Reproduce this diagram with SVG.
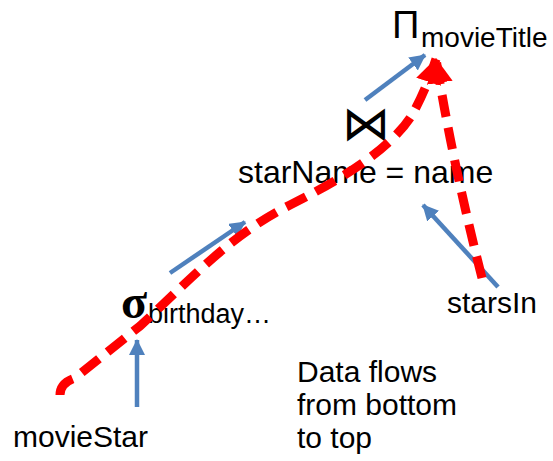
<svg xmlns="http://www.w3.org/2000/svg" width="553" height="461" viewBox="0 0 553 461">
  <style>
    .t { font-family: "Liberation Sans", Arial, sans-serif; fill: #000; }
    .flow { fill: none; stroke: #4F81BD; stroke-width: 4.5; }
    .path { fill: none; stroke: #FF0000; stroke-width: 9; stroke-dasharray: 22 11; }
  </style>
  <defs>
    <marker id="blueHead" markerUnits="userSpaceOnUse" markerWidth="18" markerHeight="18" refX="15" refY="8" orient="auto">
      <path d="M0,0 L16,8 L0,16 Z" fill="#4F81BD"/>
    </marker>
    <marker id="redHead" markerUnits="userSpaceOnUse" markerWidth="28" markerHeight="30" refX="24" refY="14" orient="auto">
      <path d="M0,1 L25,14 L0,27 Z" fill="#FF0000"/>
    </marker>
  </defs>

  <!-- projection -->
  <g id="project">
    <text class="t" x="392" y="38" font-size="38">Π</text>
    <text class="t" x="421" y="47" font-size="28">movieTitle</text>
  </g>

  <!-- join -->
  <g id="join">
    <text x="366" y="140" font-size="48" text-anchor="middle" font-family="DejaVu Sans, sans-serif">⋈</text>
    <text class="t" x="238" y="183" font-size="32">starName = name</text>
  </g>

  <!-- selection -->
  <g id="select">
    <text x="121" y="318" font-size="48" font-weight="bold" font-family="Liberation Serif, serif">σ</text>
    <text class="t" x="148" y="323" font-size="27">birthday…</text>
  </g>

  <g id="starsIn">
    <text class="t" x="447" y="313" font-size="30">starsIn</text>
  </g>

  <g id="movieStar">
    <text class="t" x="13" y="447" font-size="30">movieStar</text>
  </g>

  <g id="note">
    <text class="t" font-size="30">
      <tspan x="297" y="382">Data flows</tspan>
      <tspan x="297" y="415">from bottom</tspan>
      <tspan x="297" y="448">to top</tspan>
    </text>
  </g>

  <g id="connectors">
    <!-- blue data-flow arrows -->
    <line class="flow" x1="137" y1="407" x2="137" y2="340" marker-end="url(#blueHead)"/>
    <line class="flow" x1="170" y1="273" x2="245" y2="222" marker-end="url(#blueHead)"/>
    <line class="flow" x1="365" y1="100" x2="425" y2="55" marker-end="url(#blueHead)"/>
    <line class="flow" x1="498" y1="287" x2="423" y2="205" marker-end="url(#blueHead)"/>
    <!-- red dashed evaluation paths -->
    <path class="path" d="M60,395 Q60,383 75,378 L140,326 C190,280 230,235 290,205 C340,180 390,150 412,115 Q426,90 436,59" marker-end="url(#redHead)"/>
    <path class="path" d="M482,278 Q452,160 436,59" marker-end="url(#redHead)"/>
  </g>
</svg>
